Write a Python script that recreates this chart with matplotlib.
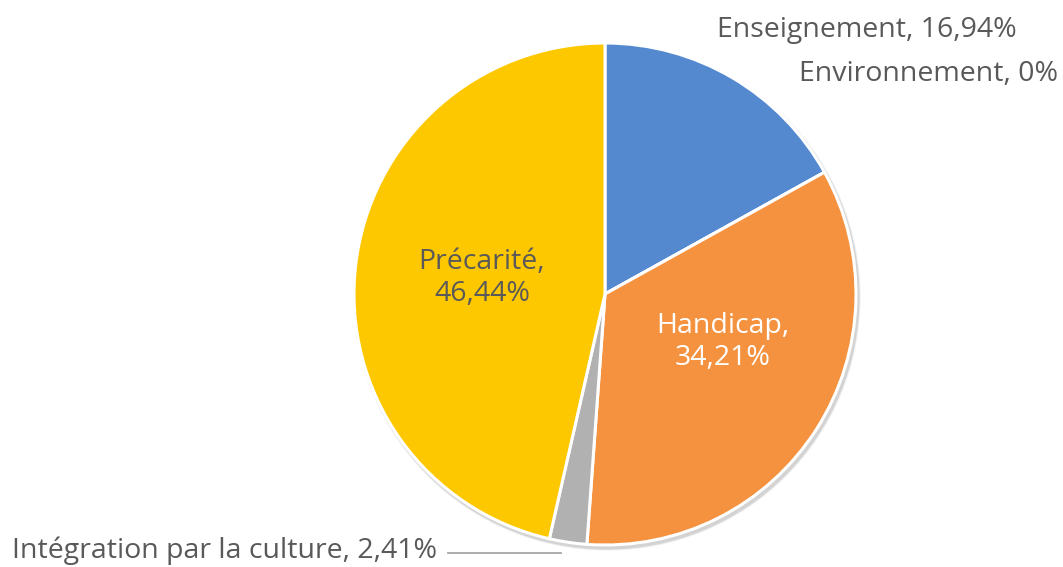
import matplotlib.pyplot as plt
from matplotlib.patches import Circle

# data
labels = ["Enseignement", "Environnement", "Handicap", "Intégration par la culture", "Précarité"]
values = [16.94, 0, 34.21, 2.41, 46.44]
value_labels = ["16,94%", "0%", "34,21%", "2,41%", "46,44%"]
colors = ["#5589CF", "#A9C6EA", "#F4923F", "#B1B1B1", "#FEC800"]

plt.rcParams['font.family'] = ['Open Sans', 'DejaVu Sans']

fig = plt.figure(figsize=(10.63, 5.67), dpi=100)
ax = fig.add_axes([0, 0, 1, 1])

cx, cy, r = 605, 273, 251

# soft shadow behind the pie (stack of faint offset discs)
for k, a in [(7, 0.04), (5, 0.06), (3.5, 0.08)]:
    ax.add_patch(Circle((cx + 2, cy - 3), r + k * 0.4, facecolor='black', edgecolor='none',
                        alpha=a, zorder=0))

wedges, _ = ax.pie(values, colors=colors, startangle=90, counterclock=False,
                   center=(cx, cy), radius=r, frame=True,
                   wedgeprops=dict(edgecolor='white', linewidth=2.2))
ax.set_xlim(0, 1063)
ax.set_ylim(0, 567)
ax.set_aspect('equal')
ax.axis('off')

grey = '#595959'
fs = 20.5

ax.text(867, 567 - 30, f"{labels[0]}, {value_labels[0]}", ha='center', va='center', fontsize=fs, color=grey)
ax.text(1058, 567 - 74, f"{labels[1]}, {value_labels[1]}", ha='right', va='center', fontsize=fs, color=grey)
ax.text(723, 567 - 342, f"{labels[2]},\n{value_labels[2]}", ha='center', va='center', fontsize=fs,
        color='white', linespacing=1.15)
ax.text(482, 567 - 278, f"{labels[4]},\n{value_labels[4]}", ha='center', va='center', fontsize=fs,
        color=grey, linespacing=1.15)
ax.text(12, 567 - 551, f"{labels[3]}, {value_labels[3]}", ha='left', va='center', fontsize=fs, color=grey)
ax.plot([448, 561], [567 - 553, 567 - 553], color='#A6A6A6', linewidth=1.3)

fig.savefig("out.png", dpi=100)
